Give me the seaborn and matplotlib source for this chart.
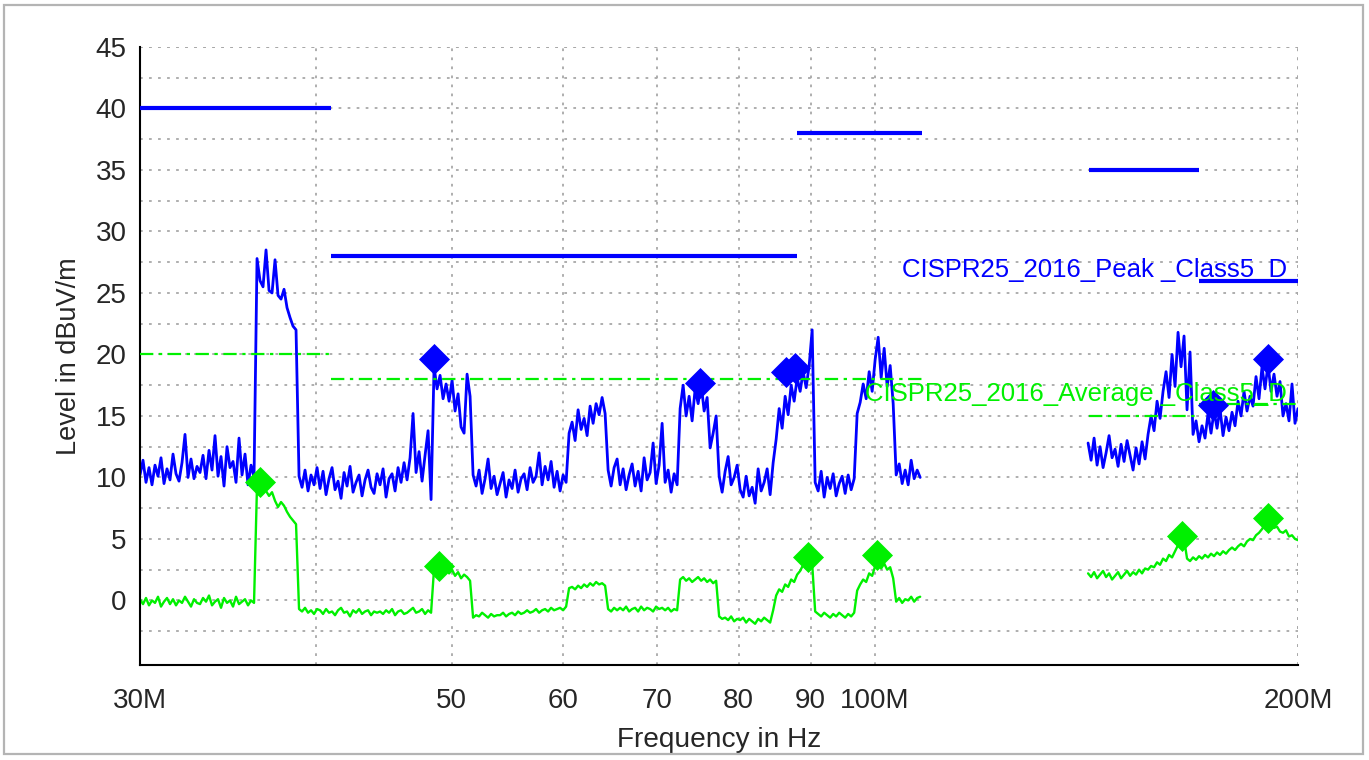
import numpy as np
import pandas as pd
import seaborn as sns
import matplotlib.pyplot as plt
from matplotlib.ticker import FixedLocator, FixedFormatter, NullLocator
from matplotlib.patches import Rectangle

# sweep limits of the two measured ranges (Hz)
SWEEP1 = (30e6, 107.7e6)
SWEEP2 = (141.8e6, 200e6)

# peak trace, range 1 (dBuV/m)
peak_1 = [
    10.2, 11.4, 9.6, 10.8, 9.4, 11.0, 10.1, 11.6, 9.5, 10.7, 9.8, 11.9, 10.3, 9.7, 11.2, 13.5, 10.0, 11.5, 9.9, 10.9,
    10.4, 11.8, 9.9, 12.2, 10.6, 13.4, 10.1, 11.7, 9.3, 12.5, 10.8, 11.3, 9.6, 13.2, 10.2, 11.9, 9.4, 11.0, 10.0, 27.8,
    26.0, 25.5, 28.5, 25.2, 25.0, 27.7, 24.8, 24.5, 25.3, 23.8, 23.0, 22.3, 22.0, 10.1, 9.2, 10.6, 8.9, 10.2, 9.4, 10.8,
    9.1, 10.5, 8.6, 9.9, 10.8, 9.0, 9.7, 8.3, 10.4, 9.3, 10.9, 8.8, 9.6, 10.2, 8.5, 9.8, 10.6, 9.2, 8.7, 10.3,
    9.4, 10.7, 8.4, 9.9, 10.3, 8.9, 10.8, 9.6, 11.2, 9.8, 11.6, 15.2, 10.4, 12.1, 9.7, 11.8, 13.8, 8.2, 19.0, 17.2,
    18.3, 16.4, 17.6, 16.2, 17.9, 15.4, 16.8, 14.1, 13.6, 18.4, 16.6, 10.2, 9.3, 10.6, 8.7, 9.9, 11.5, 9.1, 10.1, 8.6,
    9.5, 10.4, 8.4, 9.8, 9.1, 10.6, 8.8, 9.9, 10.3, 9.0, 10.8, 9.6, 10.1, 12.0, 9.4, 10.9, 9.8, 11.3, 9.2, 10.5,
    8.9, 10.2, 9.6, 13.6, 14.5, 13.0, 15.5, 13.9, 14.8, 13.4, 15.8, 14.4, 16.0, 15.1, 16.5, 15.2, 10.6, 9.3, 10.8, 11.5,
    9.4, 10.7, 9.0, 10.2, 11.1, 9.3, 10.5, 8.9, 11.6, 9.8, 10.4, 12.8, 9.5, 11.0, 14.4, 9.6, 10.6, 8.8, 10.3, 9.4,
    15.6, 17.5, 15.0, 16.6, 14.6, 17.2, 16.0, 17.6, 15.4, 16.5, 12.4, 13.6, 15.0, 10.1, 8.8, 10.5, 11.7, 9.4, 10.0, 11.0,
    9.0, 8.4, 10.1, 8.5, 9.2, 7.9, 10.7, 8.9, 9.6, 10.7, 8.6, 11.2, 13.1, 15.6, 14.0, 16.6, 15.1, 17.5, 16.2, 18.1,
    17.0, 18.6, 17.3, 19.1, 22.0, 9.6, 8.9, 10.5, 8.4, 10.0, 9.1, 10.3, 8.5, 9.5, 10.1, 8.7, 10.2, 9.0, 9.9, 15.2,
    16.1, 17.6, 16.4, 18.6, 17.0, 19.6, 21.4, 18.1, 20.5, 17.4, 19.1, 16.0, 10.2, 11.1, 9.5, 10.6, 9.4, 11.4, 9.9, 10.6,
    10.0,
]

# average trace, range 1
avg_1 = [
    0.1, -0.3, 0.2, -0.4, 0.0, -0.2, 0.3, -0.5, -0.1, 0.2, -0.3, 0.1, -0.4, 0.0, -0.2, 0.3, -0.1, -0.5, 0.1, -0.2,
    -0.3, 0.2, -0.1, 0.4, -0.4, -0.1, 0.1, -0.6, 0.2, -0.2, 0.0, -0.5, 0.3, -0.3, -0.1, 0.1, -0.4, 0.0, -0.2, 9.4,
    9.6, 9.2, 8.9, 8.5, 8.8, 8.1, 7.6, 8.0, 7.7, 7.2, 6.8, 6.5, 6.2, -0.7, -0.9, -0.6, -1.0, -0.8, -1.1, -0.7,
    -0.8, -1.1, -0.7, -1.0, -0.9, -1.2, -0.8, -0.6, -1.0, -0.9, -1.3, -0.8, -1.0, -0.7, -1.1, -0.9, -0.8, -1.2, -0.9, -1.0,
    -0.9, -1.1, -0.8, -1.0, -0.7, -1.2, -0.9, -0.8, -1.1, -1.0, -0.8, -0.6, -1.0, -0.9, -0.7, -1.1, -0.8, -1.0, 2.6, 3.0,
    2.8, 2.4, 2.6, 2.2, 2.5, 2.0, 2.3, 1.8, 2.1, 1.9, 1.6, -1.4, -1.2, -1.3, -1.0, -1.2, -1.4, -1.1, -1.3, -1.2,
    -1.2, -1.0, -1.3, -1.1, -1.0, -1.2, -0.9, -1.1, -1.0, -0.8, -1.0, -0.9, -0.7, -1.0, -0.8, -0.7, -0.9, -0.6, -0.8, -0.7,
    -0.6, -0.8, -0.5, 1.0, 1.1, 0.9, 1.2, 1.0, 1.3, 1.1, 1.4, 1.2, 1.5, 1.3, 1.4, 1.2, -0.7, -0.9, -0.6, -0.8,
    -0.6, -0.8, -0.5, -0.9, -0.7, -0.6, -0.9, -0.5, -0.8, -0.6, -0.7, -0.9, -0.5, -0.7, -0.6, -0.8, -0.6, -0.9, -0.7, -0.8,
    1.7, 1.9, 1.6, 1.8, 1.5, 1.7, 1.9, 1.6, 1.8, 1.5, 1.7, 1.4, 1.6, -1.3, -1.5, -1.4, -1.6, -1.3, -1.7, -1.5,
    -1.6, -1.4, -1.8, -1.5, -1.7, -1.9, -1.5, -1.7, -1.4, -1.6, -1.8, -0.8, 0.4, 0.9, 0.7, 1.3, 1.1, 1.7, 1.5, 2.1,
    2.4, 2.9, 2.6, 3.3, 3.0, -0.9, -1.1, -1.3, -1.0, -1.2, -1.4, -1.1, -1.3, -1.0, -1.2, -1.4, -1.1, -1.3, -1.0, 0.8,
    1.3, 1.7, 1.5, 2.2, 2.0, 2.8, 3.1, 2.6, 3.0, 2.5, 2.7, 1.8, -0.1, 0.2, -0.2, 0.1, 0.0, 0.3, -0.1, 0.2,
    0.3,
]

# peak trace, range 2
peak_2 = [
    12.8, 11.4, 13.2, 11.0, 12.5, 10.8, 12.0, 13.4, 11.6, 12.3, 10.9, 12.7, 11.3, 13.0, 11.8, 10.6, 12.4, 11.1, 12.9, 11.5,
    13.5, 15.0, 13.8, 16.2, 14.8, 17.0, 18.6, 16.5, 20.0, 17.4, 21.8, 19.0, 21.5, 15.5, 20.2, 13.5, 14.6, 12.9, 14.2, 13.2,
    15.2, 13.6, 15.4, 14.0, 15.6, 13.4, 14.9, 13.8, 15.3, 14.2, 16.2, 15.0, 17.0, 15.4, 16.6, 15.8, 18.2, 16.4, 19.0, 17.2,
    19.2, 17.0, 18.4, 16.6, 17.8, 15.0, 16.0, 14.6, 17.6, 14.4, 15.6,
]

# average trace, range 2
avg_2 = [
    2.2, 1.9, 2.3, 1.8, 2.1, 2.4, 1.9, 2.2, 1.7, 2.0, 2.3, 1.8, 2.1, 2.4, 2.0, 2.3, 2.1, 2.5, 2.2, 2.6,
    2.5, 2.8, 2.7, 3.1, 2.9, 3.4, 3.2, 3.7, 3.5, 4.0, 4.5, 4.9, 5.0, 3.4, 3.2, 3.5, 3.3, 3.6, 3.4, 3.7,
    3.5, 3.8, 3.6, 3.9, 3.7, 4.0, 3.8, 4.1, 4.3, 4.1, 4.4, 4.6, 4.4, 4.8, 5.0, 4.9, 5.3, 5.5, 5.8, 6.2,
    6.5, 6.3, 5.9, 6.0, 5.6, 5.5, 5.7, 5.2, 5.3, 5.0, 4.9,
]

# final measurement markers
peak_mk_f = [48.6e6, 75.1e6, 86.4e6, 87.7e6, 174.0e6, 190.4e6]
peak_mk_v = [19.6, 17.7, 18.6, 18.9, 15.9, 19.6]
avg_mk_f = [36.5e6, 49.0e6, 89.6e6, 100.3e6, 165.4e6, 190.4e6]
avg_mk_v = [9.6, 2.8, 3.5, 3.7, 5.2, 6.7]

# CISPR25 class 5 limit bands
lim_start = [30e6, 41e6, 88e6, 142e6, 170e6]
lim_stop = [41e6, 88e6, 108e6, 170e6, 200e6]
peak_lim = [40, 28, 38, 35, 26]
avg_lim = [20, 18, 18, 15, 16]

xticks = [30e6, 40e6, 50e6, 60e6, 70e6, 80e6, 90e6, 100e6, 200e6]
xlabels = ['30M', '', '50', '60', '70', '80', '90', '100M', '200M']

BLUE = '#0000ff'
GREEN = '#00f000'

sns.set_style('white')
plt.rcParams['font.family'] = ['Liberation Sans', 'DejaVu Sans']

f1 = np.geomspace(SWEEP1[0], SWEEP1[1], len(peak_1))
f2 = np.geomspace(SWEEP2[0], SWEEP2[1], len(peak_2))
df = pd.DataFrame({
    'freq': np.concatenate([f1, f2]),
    'peak': peak_1 + peak_2,
    'avg': avg_1 + avg_2,
    'seg': [1] * len(f1) + [2] * len(f2),
})

fig = plt.figure(figsize=(13.69, 7.6), dpi=100)
ax = fig.add_axes([140 / 1369, 1 - 665 / 760, 1158 / 1369, 618 / 760])
ax.set_xscale('log')
ax.set_xlim(30e6, 200e6)
ax.set_ylim(-5.25, 45)

# limit lines
for a, b, p, v in zip(lim_start, lim_stop, peak_lim, avg_lim):
    ax.plot([a, b], [p, p], color=BLUE, lw=3, solid_capstyle='butt', zorder=3)
    ax.plot([a, b], [v, v], color=GREEN, lw=1.6, dashes=(6, 2.5, 1.5, 2.5), zorder=4)

sns.lineplot(data=df, x='freq', y='peak', units='seg', estimator=None, sort=False,
             color=BLUE, lw=2.0, ax=ax, zorder=2)
sns.lineplot(data=df, x='freq', y='avg', units='seg', estimator=None, sort=False,
             color=GREEN, lw=1.7, ax=ax, zorder=2)

sns.scatterplot(x=peak_mk_f, y=peak_mk_v, marker='D', s=250, color=BLUE,
                edgecolor=BLUE, linewidth=0, ax=ax, zorder=5)
sns.scatterplot(x=avg_mk_f, y=avg_mk_v, marker='D', s=250, color=GREEN,
                edgecolor=GREEN, linewidth=0, ax=ax, zorder=5)

ax.text(196.5e6, 26.3, 'CISPR25_2016_Peak _Class5_D', color=BLUE, fontsize=18.5,
        ha='right', va='baseline', zorder=6)
ax.text(196.5e6, 16.2, 'CISPR25_2016_Average _Class5_D', color=GREEN, fontsize=18.5,
        ha='right', va='baseline', zorder=6)

# axes styling
ax.xaxis.set_major_locator(FixedLocator(xticks))
ax.xaxis.set_major_formatter(FixedFormatter(xlabels))
ax.xaxis.set_minor_locator(NullLocator())
ax.yaxis.set_major_locator(FixedLocator(np.arange(0, 46, 5)))
ax.yaxis.set_minor_locator(FixedLocator(np.arange(-2.5, 45, 5)))
ax.tick_params(which='both', direction='inout', length=11, width=1.4, color='black')
ax.tick_params(axis='y', labelsize=20, pad=4)
ax.tick_params(axis='x', labelsize=20, pad=11)

grid_kw = dict(color='#a8a8a8', lw=1.3, dashes=(1.5, 3.5))
ax.grid(True, which='both', axis='y', **grid_kw)
ax.grid(True, which='major', axis='x', **grid_kw)
ax.axhline(45, zorder=0, **grid_kw)
ax.axvline(200e6, zorder=0, **grid_kw)

for side in ['top', 'right']:
    ax.spines[side].set_visible(False)
for side in ['left', 'bottom']:
    ax.spines[side].set_color('black')
    ax.spines[side].set_linewidth(1.5)

ax.set_xlabel('Frequency in Hz', fontsize=20.2)
ax.set_ylabel('Level in dBuV/m', fontsize=19.5)
ax.xaxis.set_label_coords(0.5, -0.10)
ax.yaxis.set_label_coords(-0.05, 0.5)

fig.patches.append(Rectangle((4 / 1369, 6 / 760), 1359 / 1369, 749 / 760, transform=fig.transFigure,
                             fill=False, edgecolor='#b4b4b4', lw=1.6))

fig.savefig('out.png', dpi=100)
